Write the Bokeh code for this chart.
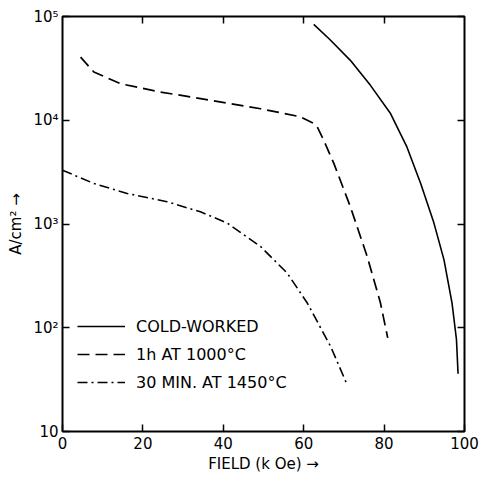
from bokeh.plotting import figure
from bokeh.models import (Range1d, LinearAxis, LogAxis, FixedTicker, CustomJSTickFormatter,
                          Legend, LegendItem)
from bokeh.embed import file_html
from bokeh.resources import INLINE

# --- data ---
field_cw = [62.5, 66.5, 71.6, 76.6, 81.6, 85.7, 89.1, 92.4, 94.9, 96.9, 98.0, 98.4]
j_cw = [8.4e4, 6.0e4, 3.78e4, 2.17e4, 1.16e4, 5.5e3, 2.46e3, 1.02e3, 451, 173, 77, 36]

field_1h = [4.5, 7.8, 14.4, 24.4, 36.8, 49.3, 59.2, 60.9, 62.5, 63.4, 65.0, 67.5, 71.6, 75.8, 79.1, 80.9]
j_1h = [4.06e4, 2.92e4, 2.25e4, 1.87e4, 1.56e4, 1.29e4, 1.08e4, 1.0e4, 9.3e3, 8.6e3, 6.4e3,
        3.84e3, 1.47e3, 485, 173, 80]

field_30 = [0, 7.8, 16.1, 26, 34.3, 41, 49.3, 55.9, 60.9, 66.7, 70.8]
j_30 = [3.3e3, 2.46e3, 1.97e3, 1.64e3, 1.31e3, 1.02e3, 605, 336, 173, 66, 28.3]

labels = ["COLD-WORKED", "1h AT 1000\u00b0C", "30 MIN. AT 1450\u00b0C"]
x_ticks = [0, 20, 40, 60, 80, 100]
y_ticks = [10, 100, 1000, 10000, 100000]

FONT = "DejaVu Sans"

p = figure(width=487, height=480, x_range=Range1d(0, 100), y_range=Range1d(10, 1e5),
           y_axis_type="log", output_backend="svg", toolbar_location=None,
           min_border_left=62, min_border_right=23, min_border_top=16, min_border_bottom=49)
p.grid.visible = False
p.outline_line_color = "black"
p.outline_line_width = 2
p.background_fill_color = "white"
p.border_fill_color = "white"

fmt = CustomJSTickFormatter(code="""
const e = Math.round(Math.log10(tick));
const sup = {2:"\\u00b2", 3:"\\u00b3", 4:"\\u2074", 5:"\\u2075"};
return e == 1 ? "10" : "10" + sup[e];
""")
blank = CustomJSTickFormatter(code="return '';")

xa = p.xaxis[0]
xa.ticker = FixedTicker(ticks=x_ticks)
xa.axis_label = "FIELD (k Oe) \u2192"
ya = p.yaxis[0]
ya.ticker = FixedTicker(ticks=y_ticks)
ya.formatter = fmt
ya.axis_label = "A/cm\u00b2 \u2192"

for ax in (xa, ya):
    ax.axis_line_color = None
    ax.major_tick_in = 7
    ax.major_tick_out = 0
    ax.major_tick_line_width = 1.5
    ax.major_tick_line_color = "#000000"
    ax.minor_tick_line_color = None
    ax.major_label_text_font = FONT
    ax.major_label_text_font_size = "15px"
    ax.major_label_text_color = "#000000"
    ax.axis_label_text_font = FONT
    ax.axis_label_text_font_size = "15px"
    ax.axis_label_text_font_style = "normal"
    ax.axis_label_text_color = "#000000"
xa.major_label_standoff = 5
xa.axis_label_standoff = 3
ya.major_label_standoff = 4
ya.axis_label_standoff = 5

top = LinearAxis(ticker=FixedTicker(ticks=[20, 40, 60, 80]), formatter=blank)
right = LogAxis(ticker=FixedTicker(ticks=y_ticks), formatter=blank)
for ax in (top, right):
    ax.axis_line_color = None
    ax.major_tick_in = 7
    ax.major_tick_out = 0
    ax.major_tick_line_width = 1.5
    ax.major_tick_line_color = "#000000"
    ax.minor_tick_line_color = None
    ax.major_label_standoff = 0
p.add_layout(top, "above")
p.add_layout(right, "right")

r1 = p.line(field_cw, j_cw, line_color="black", line_width=1.6)
r2 = p.line(field_1h, j_1h, line_color="black", line_width=1.7, line_dash="12 6")
r3 = p.line(field_30, j_30, line_color="black", line_width=1.6, line_dash="10 4 2 4")

legend = Legend(items=[LegendItem(label=labels[0], renderers=[r1]),
                       LegendItem(label=labels[1], renderers=[r2]),
                       LegendItem(label=labels[2], renderers=[r3])],
                location=(15, 39), orientation="vertical",
                glyph_width=48, glyph_height=20, label_height=20, spacing=8,
                label_standoff=11, padding=0, margin=0,
                label_text_font=FONT, label_text_font_size="16px",
                label_text_color="#000000",
                border_line_color=None, background_fill_alpha=0)
p.add_layout(legend, "center")

open("out.html", "w").write(file_html(p, INLINE))
